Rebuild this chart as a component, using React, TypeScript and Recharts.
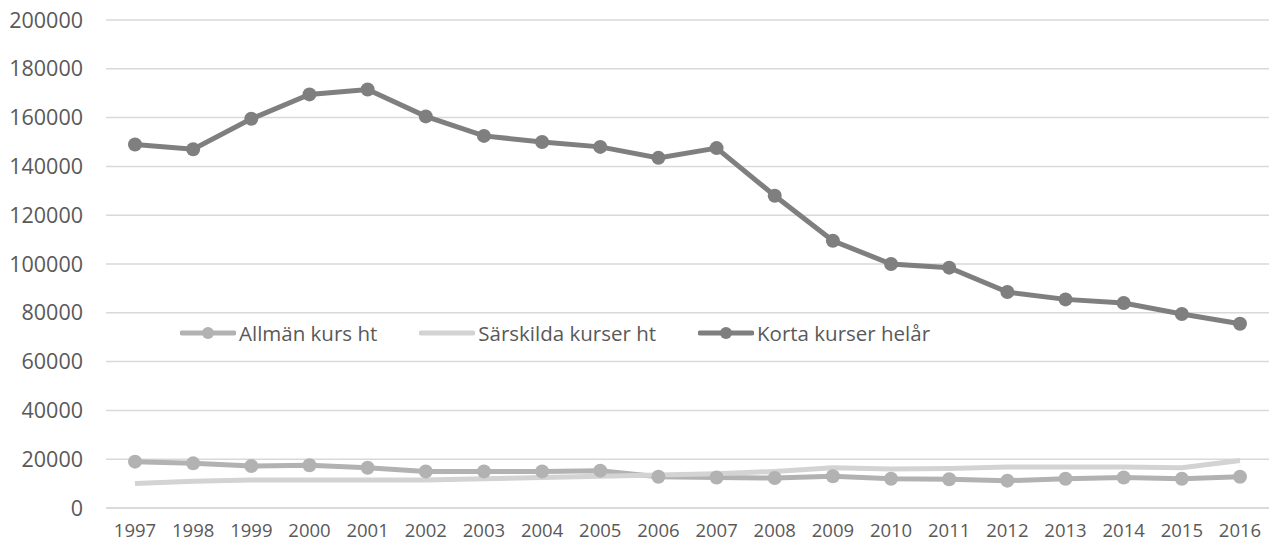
import React from "react";
import { LineChart, Line, XAxis, YAxis, CartesianGrid } from "recharts";

const years = ["1997","1998","1999","2000","2001","2002","2003","2004","2005","2006","2007","2008","2009","2010","2011","2012","2013","2014","2015","2016"];
const allman = [19000,18300,17200,17500,16500,15000,15000,15000,15300,12800,12500,12300,13000,12000,11800,11200,12000,12500,12000,12800];
const sarskilda = [10000,11000,11500,11500,11500,11500,12000,12500,13000,13500,14000,15000,16500,16000,16200,16800,16800,16800,16500,19500];
const korta = [149000,147000,159500,169500,171500,160500,152500,150000,148000,143500,147500,128000,109500,100000,98500,88500,85500,84000,79500,75500];
const yTicks = [0,20000,40000,60000,80000,100000,120000,140000,160000,180000,200000];

const data = years.map((y, i) => ({ year: y, allman: allman[i], sarskilda: sarskilda[i], korta: korta[i] }));

const series = [
  { key: "allman", name: "Allmän kurs ht", color: "#b2b2b2", dot: true },
  { key: "sarskilda", name: "Särskilda kurser ht", color: "#d3d3d3", dot: false },
  { key: "korta", name: "Korta kurser helår", color: "#7f7f7f", dot: true },
];

const FONT = "'Open Sans', sans-serif";

const LegendBox = () => (
  <div style={{ position: "absolute", left: 180, top: 319, display: "flex", alignItems: "center", fontFamily: FONT, fontSize: 20.5, color: "#595959", lineHeight: "28px" }}>
    {series.map((s, i) => (
      <div key={s.key} style={{ display: "flex", alignItems: "center", marginRight: i < series.length - 1 ? 42 : 0 }}>
        <svg width={56} height={14} style={{ marginRight: 3 }}>
          <line x1={2} y1={7} x2={54} y2={7} stroke={s.color} strokeWidth={5} strokeLinecap="round" />
          {s.dot && <circle cx={28} cy={7} r={6} fill={s.color} />}
        </svg>
        <span>{s.name}</span>
      </div>
    ))}
  </div>
);

export default function App() {
  return (
    <div style={{ position: "fixed", left: 0, top: 0, width: 1269, height: 545, background: "#fff" }}>
      <LineChart width={1269} height={545} data={data} margin={{ top: 20, right: 0, bottom: 0, left: 0 }}>
        <CartesianGrid horizontal vertical={false} stroke="#d9d9d9" strokeWidth={1.5} />
        <XAxis
          dataKey="year"
          height={37}
          padding={{ left: 29, right: 29 }}
          tickLine={false}
          axisLine={{ stroke: "#d9d9d9", strokeWidth: 1.5 }}
          tickSize={0}
          tickMargin={16}
          interval={0}
          tick={{ fill: "#595959", fontSize: 18.5, fontFamily: FONT }}
        />
        <YAxis
          width={106}
          domain={[0, 200000]}
          ticks={yTicks}
          tickLine={false}
          axisLine={false}
          tickSize={0}
          tickMargin={23}
          tick={{ fill: "#595959", fontSize: 21.5, fontFamily: FONT }}
        />
        {series.map((s) => (
          <Line
            key={s.key}
            type="linear"
            dataKey={s.key}
            name={s.name}
            stroke={s.color}
            strokeWidth={5}
            dot={s.dot ? { r: 7, fill: s.color, stroke: s.color, strokeWidth: 0 } : false}
            activeDot={false}
            isAnimationActive={false}
          />
        ))}
      </LineChart>
      <LegendBox />
    </div>
  );
}
